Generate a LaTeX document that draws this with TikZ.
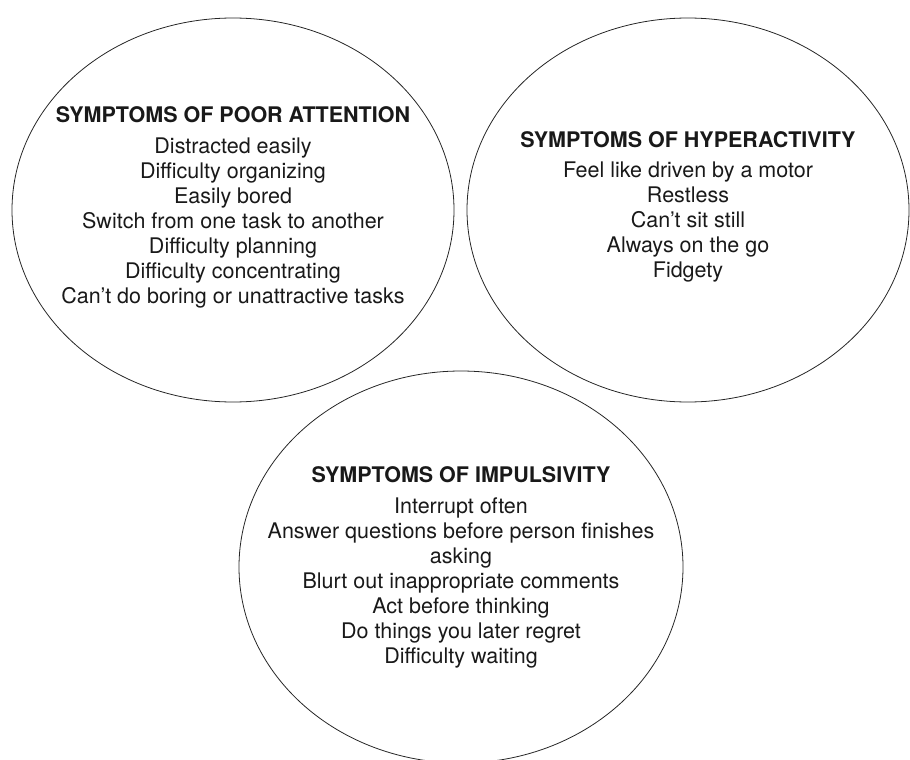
\documentclass[tikz,border=0pt]{standalone}
\usepackage{fontspec}
\setmainfont{TeX Gyre Heros}
\usetikzlibrary{shapes.geometric}
\tikzset{
  bubble/.style={draw=black!85, line width=0.8pt, ellipse, inner sep=0pt},
  heading/.style={anchor=base, font=\bfseries\fontsize{21.5}{25}\selectfont, text=black!90},
  item/.style={anchor=base, font=\fontsize{21.5}{25}\selectfont, text=black!90},
}
\begin{document}
\begin{tikzpicture}[x=1pt,y=-1pt]
  \useasboundingbox (0,0) rectangle (910,760);
  % the three bubbles
  \node[bubble, minimum width=442pt, minimum height=384pt] (attn) at (233,210) {};
  \node[bubble, minimum width=442pt, minimum height=384pt] (hyper) at (688,210) {};
  \node[bubble, minimum width=444pt, minimum height=392pt] (impul) at (461,567) {};
  % poor attention
  \node[heading] (attn-title) at (233,122) {SYMPTOMS OF POOR ATTENTION};
  \foreach \txt [count=\i] in {Distracted easily, Difficulty organizing, Easily bored,
      Switch from one task to another, Difficulty planning, Difficulty concentrating,
      Can’t do boring or unattractive tasks}
    \node[item] (attn-\i) at (233,128+25*\i) {\txt};
  % hyperactivity
  \node[heading] (hyper-title) at (688,147) {SYMPTOMS OF HYPERACTIVITY};
  \foreach \txt [count=\i] in {Feel like driven by a motor, Restless, Can’t sit still,
      Always on the go, Fidgety}
    \node[item] (hyper-\i) at (688,152+25*\i) {\txt};
  % impulsivity
  \node[heading] (impul-title) at (461,482) {SYMPTOMS OF IMPULSIVITY};
  \foreach \txt [count=\i] in {Interrupt often, Answer questions before person finishes,
      asking, Blurt out inappropriate comments, Act before thinking,
      Do things you later regret, Difficulty waiting}
    \node[item] (impul-\i) at (461,488+25*\i) {\txt};
\end{tikzpicture}
\end{document}
